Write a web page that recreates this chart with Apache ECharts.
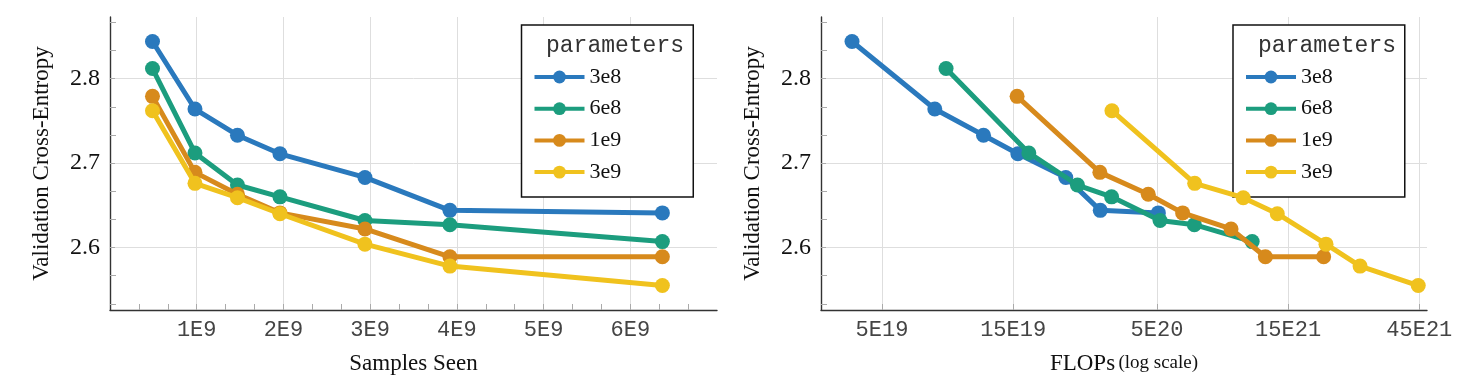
<!DOCTYPE html>
<html><head><meta charset="utf-8">
<script src="https://cdn.jsdelivr.net/npm/echarts@6/dist/echarts.min.js"></script>
<style>html,body{margin:0;padding:0;background:#fff}#c{width:1469px;height:387px}</style>
</head><body><div id="c"></div>
<script>
// ---------- data ----------
const seriesNames = ['3e8', '6e8', '1e9', '3e9'];
const seriesColors = ['#2a79bd', '#1c9d7e', '#d78a1c', '#f0c21e'];
const samplesSeen = [0.49e9, 0.98e9, 1.47e9, 1.96e9, 2.94e9, 3.92e9, 6.37e9];
const loss3e8 = [2.844, 2.764, 2.733, 2.711, 2.683, 2.644, 2.641];
const loss6e8 = [2.812, 2.712, 2.674, 2.660, 2.632, 2.627, 2.607];
const loss1e9 = [2.779, 2.689, 2.663, 2.641, 2.622, 2.589, 2.589];
const loss3e9 = [2.762, 2.676, 2.659, 2.640, 2.604, 2.578, 2.555];
const flops3e8 = [3.89e19, 7.78e19, 1.17e20, 1.56e20, 2.33e20, 3.11e20, 5.06e20];
const flops6e8 = [8.55e19, 1.71e20, 2.57e20, 3.42e20, 5.13e20, 6.84e20, 1.11e21];
const flops1e9 = [1.55e20, 3.10e20, 4.65e20, 6.20e20, 9.30e20, 1.24e21, 2.02e21];
const flops3e9 = [3.43e20, 6.86e20, 1.03e21, 1.37e21, 2.06e21, 2.74e21, 4.46e21];
const yTicks = [2.6, 2.7, 2.8];
const yMinorTicks = [2.5333, 2.5667, 2.6333, 2.6667, 2.7333, 2.7667, 2.8333, 2.8667];
const xTicksLeft = [1e9, 2e9, 3e9, 4e9, 5e9, 6e9];
const xMinorTicksLeft = [0.3333e9, 0.6667e9, 1.3333e9, 1.6667e9, 2.3333e9, 2.6667e9, 3.3333e9, 3.6667e9, 4.3333e9, 4.6667e9, 5.3333e9, 5.6667e9, 6.3333e9, 6.6667e9];
const xTickLabelsLeft = ['1E9', '2E9', '3E9', '4E9', '5E9', '6E9'];
const xTicksRight = [5e19, 1.5e20, 5e20, 1.5e21, 4.5e21];
const xTickLabelsRight = ['5E19', '15E19', '5E20', '15E21', '45E21'];
const legendTitle = 'parameters';

// ---------- chart ----------
const lossSets = [loss3e8, loss6e8, loss1e9, loss3e9];
const flopSets = [flops3e8, flops6e8, flops1e9, flops3e9];
const SERIF = 'Liberation Serif';
const MONO = 'Liberation Mono';
const Y_MIN = 2.526, Y_MAX = 2.873;
const grids = [
  {left: 110, top: 17, width: 607, height: 293},
  {left: 821, top: 17, width: 606, height: 293}
];
const axisLine = {show: true, lineStyle: {color: '#333', width: 1.4}};
const gridLine = {show: true, lineStyle: {color: '#dedede', width: 1}};
const tickStyle = {color: '#aaa', width: 1};

function yAxesFor(gi) {
  return [{
    gridIndex: gi, type: 'value', min: Y_MIN, max: Y_MAX,
    name: 'Validation Cross-Entropy', nameLocation: 'middle', nameGap: 57,
    nameTextStyle: {fontFamily: SERIF, fontSize: 23, color: '#111'},
    axisLine: axisLine,
    axisTick: {show: true, inside: true, length: 5, customValues: yTicks, lineStyle: tickStyle},
    axisLabel: {customValues: yTicks, fontFamily: SERIF, fontSize: 24, color: '#111', margin: 10,
      formatter: v => v.toFixed(1)},
    splitLine: gridLine
  }, {
    gridIndex: gi, type: 'value', min: Y_MIN, max: Y_MAX, position: 'left',
    axisLine: {show: false},
    axisTick: {show: true, inside: true, length: 6, customValues: yMinorTicks, lineStyle: tickStyle},
    axisLabel: {show: false}, splitLine: {show: false}
  }];
}

const xAxes = [
  {
    gridIndex: 0, type: 'value', min: 0, max: 7e9,
    name: 'Samples Seen', nameLocation: 'middle', nameGap: 42,
    nameTextStyle: {fontFamily: SERIF, fontSize: 23, color: '#111'},
    axisLine: axisLine,
    axisTick: {show: true, inside: true, length: 6, customValues: xTicksLeft, lineStyle: tickStyle},
    axisLabel: {customValues: xTicksLeft, fontFamily: MONO, fontSize: 22, color: '#444', margin: 9,
      formatter: v => xTickLabelsLeft[xTicksLeft.findIndex(t => Math.abs(t - v) < 1e6)] || ''},
    splitLine: gridLine
  },
  {
    gridIndex: 0, type: 'value', min: 0, max: 7e9, position: 'bottom',
    axisLine: {show: false},
    axisTick: {show: true, inside: true, length: 6, customValues: xMinorTicksLeft, lineStyle: tickStyle},
    axisLabel: {show: false}, splitLine: {show: false}
  },
  {
    gridIndex: 1, type: 'log', min: 3.0e19, max: 4.8e21, logBase: 10,
    name: '{a|FLOPs} {b|(log scale)}', nameLocation: 'middle', nameGap: 42,
    nameTextStyle: {rich: {a: {fontFamily: SERIF, fontSize: 23, color: '#111'}, b: {fontFamily: SERIF, fontSize: 19, color: '#111'}}},
    axisLine: axisLine,
    axisTick: {show: true, inside: true, length: 6, customValues: xTicksRight, lineStyle: tickStyle},
    axisLabel: {customValues: xTicksRight, fontFamily: MONO, fontSize: 22, color: '#444', margin: 9,
      formatter: v => xTickLabelsRight[xTicksRight.findIndex(t => Math.abs(t - v) / t < 1e-3)] || ''},
    minorTick: {show: false}, splitLine: gridLine
  }
];

const series = [];
seriesNames.forEach((nm, k) => {
  const common = {
    name: nm, type: 'line', symbol: 'circle', symbolSize: 15, showSymbol: true,
    lineStyle: {width: 5, color: seriesColors[k]}, itemStyle: {color: seriesColors[k]},
    z: 2 + k, animation: false
  };
  series.push(Object.assign({}, common, {xAxisIndex: 0, yAxisIndex: 0,
    data: samplesSeen.map((x, i) => [x, lossSets[k][i]])}));
  series.push(Object.assign({}, common, {xAxisIndex: 2, yAxisIndex: 2,
    data: flopSets[k].map((x, i) => [x, lossSets[k][i]])}));
});

function legendAt(left) {
  return {
    orient: 'vertical', left: left, top: 25,
    data: seriesNames,
    itemWidth: 50, itemHeight: 16, itemGap: 9.7, itemTextGap: 8,
    lineStyle: {width: 4},
    backgroundColor: '#fff', borderColor: '#111', borderWidth: 1.5, borderRadius: 0,
    padding: [41, 72, 14, 11],
    textStyle: {fontFamily: SERIF, fontSize: 22, color: '#111', lineHeight: 21},
    selectedMode: false
  };
}

const chart = echarts.init(document.getElementById('c'), null, {renderer: 'canvas'});
chart.setOption({
  animation: false,
  backgroundColor: '#fff',
  grid: grids,
  xAxis: xAxes,
  yAxis: yAxesFor(0).concat(yAxesFor(1)),
  legend: [legendAt(521.5), legendAt(1233)],
  title: [
    {text: legendTitle, left: 541, top: 29, textStyle: {fontFamily: MONO, fontSize: 23, fontWeight: 'normal', color: '#333'}, z: 20},
    {text: legendTitle, left: 1253, top: 29, textStyle: {fontFamily: MONO, fontSize: 23, fontWeight: 'normal', color: '#333'}, z: 20}
  ],
  series: series
});
</script>
</body></html>
